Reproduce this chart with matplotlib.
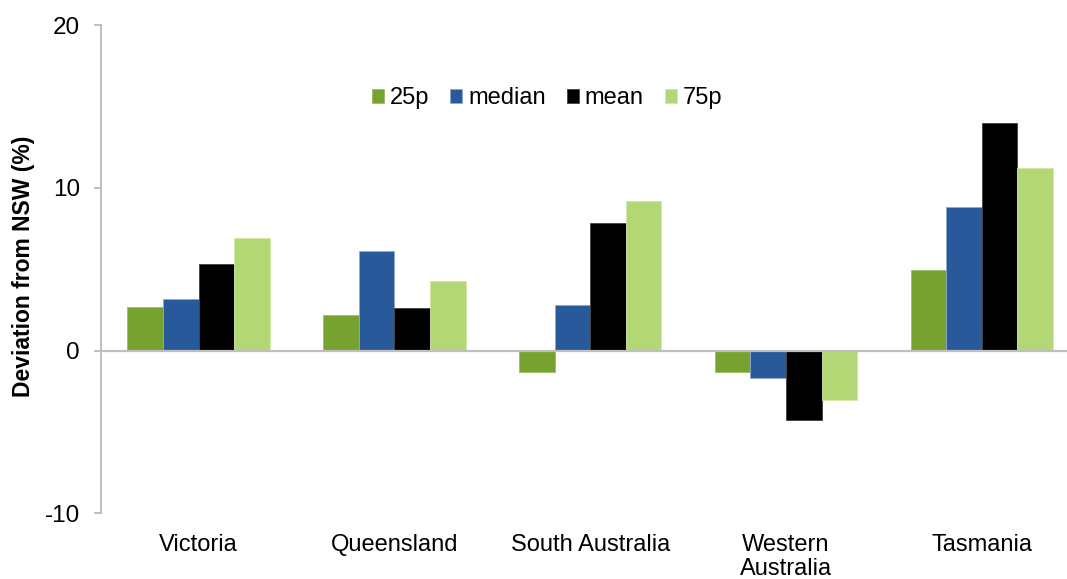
import numpy as np
import matplotlib
matplotlib.use('Agg')
import matplotlib.pyplot as plt

plt.rcParams['font.family'] = ['Liberation Sans', 'DejaVu Sans']
plt.rcParams['axes.unicode_minus'] = False

# waarden
states = ['Victoria', 'Queensland', 'South Australia', 'Western\nAustralia', 'Tasmania']
p25 = [2.66, 2.19, -1.29, -1.31, 4.97]
median = [3.15, 6.12, 2.78, -1.70, 8.83]
mean = [5.30, 2.60, 7.83, -4.27, 14.01]
p75 = [6.91, 4.26, 9.16, -3.05, 11.19]

series = [('25p', p25, '#78A22F', '#9CBD67'),
          ('median', median, '#285A9B', '#8FA8CC'),
          ('mean', mean, '#000000', '#404040'),
          ('75p', p75, '#B3D775', '#D2E8A8')]

fig = plt.figure(figsize=(10.67, 5.79), dpi=100)
ax = fig.add_axes([0.0944, 0.1135, 0.9175, 0.8433])

x = np.arange(len(states))
w = 0.182
for i, (name, vals, col, edge) in enumerate(series):
    ax.bar(x + (i - 1.5) * w, vals, w, color=col, edgecolor=edge, linewidth=0.6,
           label=name, zorder=2)

# nullijn
ax.axhline(0, color='#BFBFBF', linewidth=1.6, zorder=3)

ax.set_xlim(-0.5, len(states) - 0.5)
ax.set_ylim(-10, 20)
ax.set_yticks([-10, 0, 10, 20])
ax.set_xticks(x)
ax.set_xticklabels(states, fontsize=17, linespacing=1.1)
ax.tick_params(axis='x', length=0, pad=15)
ax.tick_params(axis='y', length=5, width=1.4, color='#BFBFBF', pad=10, labelsize=17.5)

for s in ['top', 'right', 'bottom']:
    ax.spines[s].set_visible(False)
ax.spines['left'].set_color('#BFBFBF')
ax.spines['left'].set_linewidth(1.4)

ax.set_ylabel('Deviation from NSW (%)', fontsize=16.5, fontweight='bold')
ax.yaxis.set_label_coords(-0.067, 0.506)

ax.legend(loc='center', bbox_to_anchor=(0.456, 0.85), ncol=4, frameon=False,
          fontsize=17, handlelength=0.5, handleheight=0.5, handletextpad=0.25,
          columnspacing=0.9, borderaxespad=0)

fig.savefig('out.png', dpi=100)
